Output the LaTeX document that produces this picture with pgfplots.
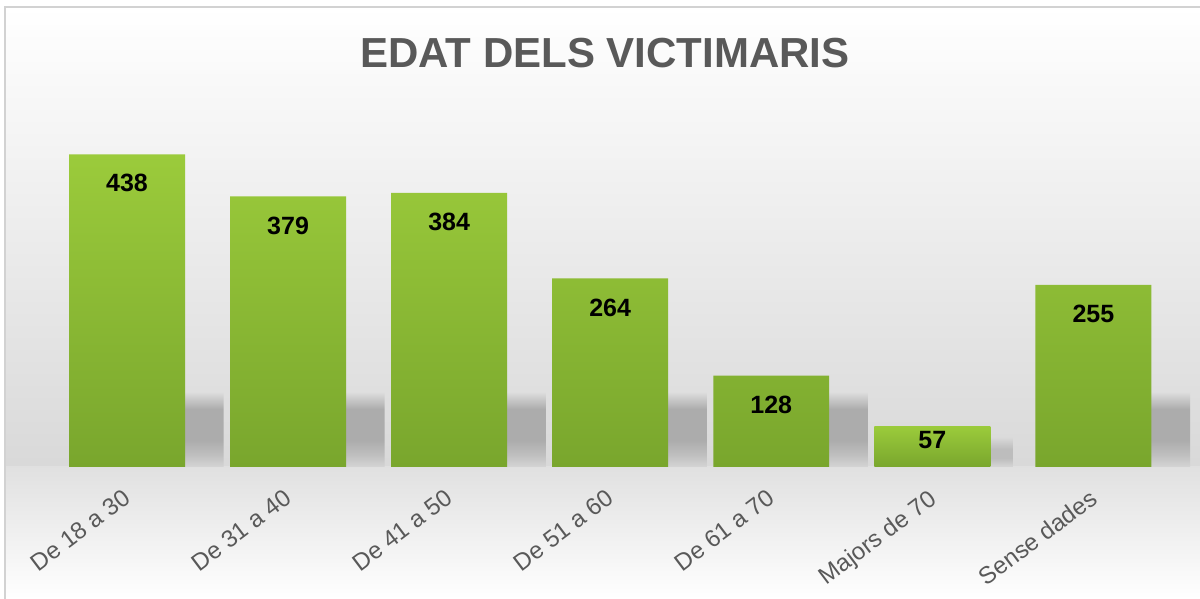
\documentclass[border=0pt]{standalone}
\usepackage{pgfplots}
\pgfplotsset{compat=1.18}
\usepackage{fontspec}
\setmainfont{Liberation Sans}
\definecolor{titlegray}{HTML}{595959}
\definecolor{bartop}{HTML}{9BCB3B}
\definecolor{barbot}{HTML}{79A62D}
\pgfdeclareverticalshading{barshadow}{100bp}{%
  color(0bp)=(gray!33); color(25bp)=(gray!33); color(33bp)=(gray!50);
  color(43bp)=(gray!65); color(64bp)=(gray!65); color(75bp)=(gray!28); color(100bp)=(gray!28)}
\pgfdeclareverticalshading{smallshadow}{100bp}{%
  color(0bp)=(gray!32); color(25bp)=(gray!32); color(40bp)=(gray!52);
  color(55bp)=(gray!52); color(75bp)=(gray!29); color(100bp)=(gray!29)}
\begin{document}
\begin{tikzpicture}[x=1pt,y=1pt]
\useasboundingbox (0,0) rectangle (1200,599);
\fill[top color=white, bottom color=gray!30] (5,132) rectangle (1200,592);
\fill[top color=gray!24, bottom color=white] (5,0) rectangle (1200,132);
\draw[gray!35, line width=1.5pt] (5,0) -- (5,592) -- (1200,592);
\node[font=\fontsize{42}{42}\selectfont\bfseries, text=titlegray] at (605,546) {EDAT DELS VICTIMARIS};
\begin{axis}[at={(46.5pt,132pt)}, anchor=south west, scale only axis,
  width=1127.5pt, height=377pt,
  xmin=-0.5, xmax=6.5, ymin=0, ymax=528,
  axis line style={draw=none}, ytick=\empty,
  xtick={0,...,6},
  xticklabels={De 18 a 30, De 31 a 40, De 41 a 50, De 51 a 60, De 61 a 70, Majors de 70, Sense dades},
  major tick length=0pt,
  xticklabel style={xshift=-5pt, yshift=-21pt, rotate=37, anchor=north east, inner sep=0pt, font=\fontsize{24}{24}\selectfont, text=titlegray},
  /pgf/number format/assume math mode=true,
  clip=false]
\addplot[ybar, bar width=0.72, bar shift=0.24, draw=none, shading=barshadow]
  coordinates {(0,104)(1,104)(2,104)(3,104)(4,104)(6,104)};
\addplot[ybar, bar width=0.72, bar shift=0.14, draw=none, shading=smallshadow]
  coordinates {(5,42)};
\addplot[ybar, bar width=0.72, bar shift=0, draw=none, top color=bartop, bottom color=barbot,
  nodes near coords,
  every node near coord/.append style={anchor=north, yshift=-20pt, inner sep=0pt, text=black, font=\fontsize{25}{25}\selectfont\bfseries}]
  coordinates {(0,438)(1,379)(2,384)(3,264)(4,128)(6,255)};
\addplot[ybar, bar width=0.72, bar shift=0, draw=none, top color=bartop, bottom color=barbot,
  nodes near coords,
  every node near coord/.append style={anchor=north, yshift=-5pt, inner sep=0pt, text=black, font=\fontsize{25}{25}\selectfont\bfseries}]
  coordinates {(5,57)};
\end{axis}
\end{tikzpicture}
\end{document}
